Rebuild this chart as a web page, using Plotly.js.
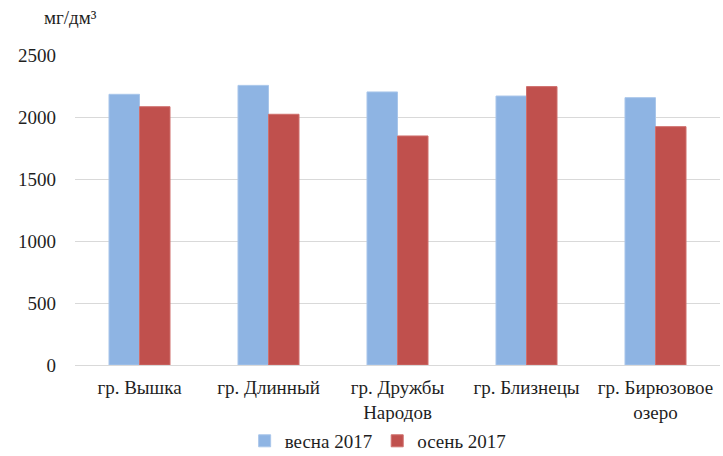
<!DOCTYPE html>
<html>
<head>
<meta charset="utf-8">
<script src="https://cdn.plot.ly/plotly-3.0.1.min.js"></script>
<style>html,body{margin:0;padding:0;background:#fff;}#chart{width:723px;height:456px;}</style>
</head>
<body>
<div id="chart"></div>
<script>
const categories = ["гр. Вышка", "гр. Длинный", "гр. Дружбы<br>Народов", "гр. Близнецы", "гр. Бирюзовое<br>озеро"];
const spring2017 = [2183, 2255, 2202, 2169, 2156];
const autumn2017 = [2083, 2022, 1847, 2245, 1922];
const seriesNames = ["весна 2017", "осень 2017"];
const yTicks = [0, 500, 1000, 1500, 2000, 2500];
const unitLabel = "мг/дм³";

const font = {family: "Liberation Serif", size: 19, color: "#1f1f1f"};

const traces = [
  {type: "bar", name: seriesNames[0], x: categories, y: spring2017,
   marker: {color: "#8EB4E3", line: {color: "#A9C6EA", width: 1}}, hoverinfo: "skip"},
  {type: "bar", name: seriesNames[1], x: categories, y: autumn2017,
   marker: {color: "#C0504D", line: {color: "#CF6F6C", width: 1}}, hoverinfo: "skip"}
];

const layout = {
  width: 723, height: 456,
  margin: {l: 75, r: 3, t: 55, b: 91, autoexpand: false},
  paper_bgcolor: "#fff", plot_bgcolor: "#fff",
  font: font,
  barmode: "group", bargap: 0.527, bargroupgap: 0,
  showlegend: true,
  legend: {orientation: "h", x: 0.47, xanchor: "center", y: -0.245, yanchor: "middle",
           font: font, itemwidth: 30, tracegroupgap: 0},
  xaxis: {type: "category", tickfont: font, showgrid: false, zeroline: false, automargin: false,
          showline: true, linecolor: "#d9d9d9", linewidth: 1, ticks: "", ticklabelstandoff: 5},
  yaxis: {range: [0, 2500], tickvals: yTicks, ticktext: yTicks.map(String), tickfont: font,
          showgrid: true, gridcolor: "#d9d9d9", gridwidth: 1, zeroline: false, automargin: false,
          showline: false, ticks: "", ticklabelstandoff: 18},
  annotations: [{text: unitLabel, xref: "paper", yref: "paper", x: (70 - 75) / 645, y: (365 - 18) / 310,
                 xanchor: "center", yanchor: "middle", showarrow: false, font: font}]
};

Plotly.newPlot("chart", traces, layout, {staticPlot: true, displayModeBar: false});
</script>
</body>
</html>
